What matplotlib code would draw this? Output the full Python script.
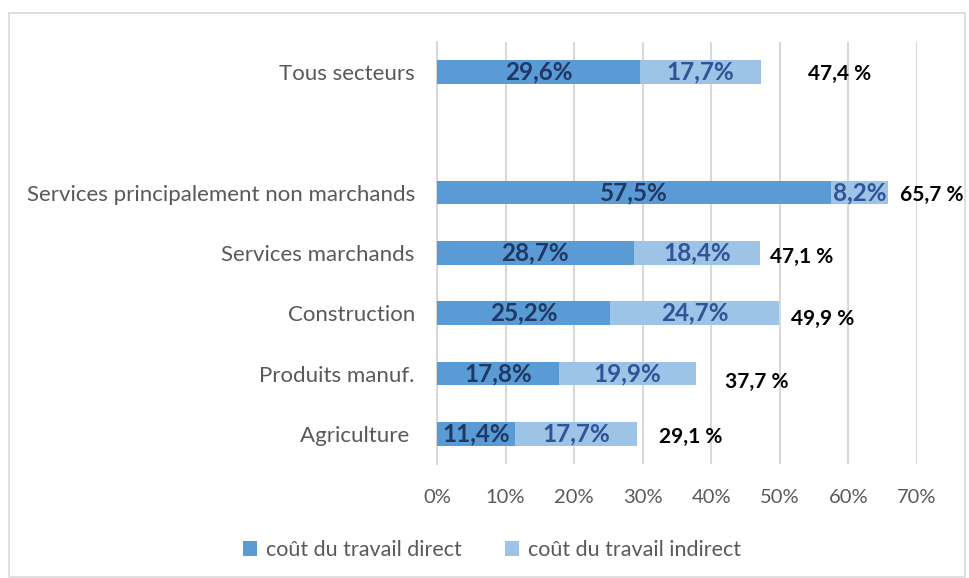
import numpy as np
import matplotlib
matplotlib.use("Agg")
import matplotlib.pyplot as plt
from matplotlib.patches import Rectangle

plt.rcParams["font.family"] = ["Lato", "DejaVu Sans"]

# ---- données (en %) ----
categories = [
    "Tous secteurs",
    "",
    "Services principalement non marchands",
    "Services marchands",
    "Construction",
    "Produits manuf.",
    "Agriculture ",
]
direct = [29.6, np.nan, 57.5, 28.7, 25.2, 17.8, 11.4]
indirect = [17.7, np.nan, 8.2, 18.4, 24.7, 19.9, 17.7]
totals = [47.4, np.nan, 65.7, 47.1, 49.9, 37.7, 29.1]
xticks = [0, 10, 20, 30, 40, 50, 60, 70]
series_names = ["coût du travail direct", "coût du travail indirect"]

# décalage des étiquettes de total (pixels, placées à la main dans l'original)
total_offsets = [(46, -2), None, (12, -2), (10, -4), (12, -6), (29, -8), (22, -3)]

c_direct = "#5B9BD5"
c_indirect = "#9DC3E6"
grey_txt = "#595959"
grid_col = "#D9D9D9"


def fr(v, sep=""):
    return f"{v:.1f}{sep}%".replace(".", ",")


fig = plt.figure(figsize=(9.7, 5.78), dpi=100)
ax = fig.add_axes([437 / 970, 1 - 464 / 578, 480 / 970, (464 - 41.7) / 578])

y = np.arange(len(categories))
b1 = ax.barh(y, direct, height=0.39, color=c_direct, label=series_names[0], zorder=3)
b2 = ax.barh(y, indirect, left=direct, height=0.39, color=c_indirect,
             label=series_names[1], zorder=3)

ax.bar_label(b1, labels=["" if np.isnan(v) else fr(v) for v in direct],
             label_type="center", fontsize=17.5, fontweight="bold", color="#1F3864")
ax.bar_label(b2, labels=["" if np.isnan(v) else fr(v) for v in indirect],
             label_type="center", fontsize=17.5, fontweight="bold", color="#2F5597")

# totaux
for yi, tot, off in zip(y, totals, total_offsets):
    if off is None:
        continue
    ax.annotate(fr(tot, " "), xy=(tot, yi), xytext=off, textcoords="offset pixels",
                ha="left", va="center", fontsize=15, fontweight="bold",
                color="black", annotation_clip=False)

ax.set_xlim(0, 70)
ax.set_ylim(len(categories) - 0.5, -0.5)
ax.set_xticks(xticks)
ax.set_xticklabels([f"{t}%" for t in xticks])
ax.set_yticks(y)
ax.set_yticklabels(categories)

ax.tick_params(axis="x", length=0, pad=18, labelsize=14.5, labelcolor=grey_txt)
ax.tick_params(axis="y", length=0, pad=16, labelsize=16, labelcolor=grey_txt)

ax.grid(axis="x", color=grid_col, linewidth=1.5, zorder=0)
ax.set_axisbelow(True)
for side in ["top", "right", "bottom"]:
    ax.spines[side].set_visible(False)
ax.spines["left"].set_color(grid_col)
ax.spines["left"].set_linewidth(1.5)

fig.legend(loc="center", bbox_to_anchor=(492 / 970, 1 - 550 / 578), ncol=2,
           frameon=False, fontsize=15.5, labelcolor=grey_txt,
           handlelength=0.65, handleheight=0.65, handletextpad=0.4, columnspacing=2.0)

# cadre du graphique
fig.patches.append(Rectangle((9 / 970, 1 - 577 / 578), 956 / 970, 564 / 578,
                             transform=fig.transFigure, fill=False,
                             edgecolor=grid_col, linewidth=1.2))

fig.savefig("out.png", dpi=100)
